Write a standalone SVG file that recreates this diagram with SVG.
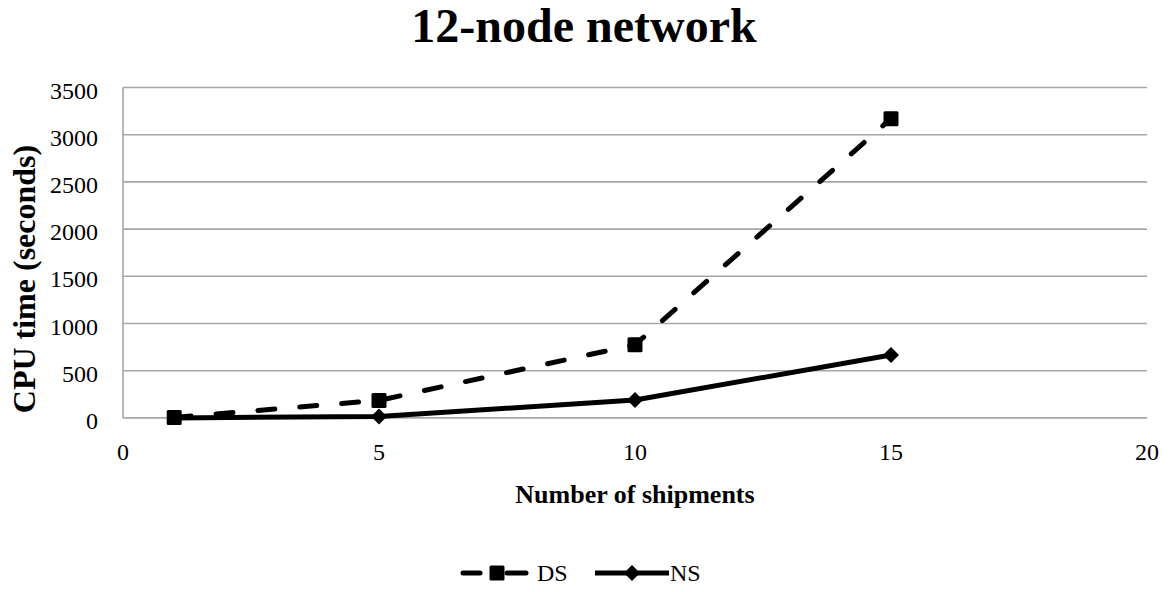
<svg xmlns="http://www.w3.org/2000/svg" width="1169" height="592" viewBox="0 0 1169 592">
  <style>
    text { font-family: "Liberation Serif", "Times New Roman", serif; fill: #000; }
    .title { font-size: 48px; font-weight: bold; text-anchor: middle; }
    .axis-title { font-weight: bold; text-anchor: middle; }
    .tick { font-size: 24px; }
    .ytick { text-anchor: end; }
    .xtick { text-anchor: middle; }
    .legend { font-size: 24px; }
    .grid { stroke: #a6a6a6; stroke-width: 1.6; fill: none; }
    .series { fill: none; stroke: #000; stroke-width: 5; stroke-linejoin: round; }
    .dashed { stroke-dasharray: 17 25; stroke-linecap: round; }
    .solid { stroke-linecap: butt; }
  </style>
  <defs>
    <rect id="sq" x="-7.5" y="-7.5" width="15" height="15" rx="1.5" fill="#000"/>
    <path id="dia" d="M0,-8 L8,0 L0,8 L-8,0 Z" fill="#000"/>
  </defs>

  <rect width="1169" height="592" fill="#fff"/>

  <text class="title" x="584" y="42">12-node network</text>

  <!-- gridlines and axes -->
  <g id="grid">
    <line class="grid" x1="123" y1="87.5" x2="1147" y2="87.5"/>
    <line class="grid" x1="123" y1="134.7" x2="1147" y2="134.7"/>
    <line class="grid" x1="123" y1="181.9" x2="1147" y2="181.9"/>
    <line class="grid" x1="123" y1="229.1" x2="1147" y2="229.1"/>
    <line class="grid" x1="123" y1="276.3" x2="1147" y2="276.3"/>
    <line class="grid" x1="123" y1="323.5" x2="1147" y2="323.5"/>
    <line class="grid" x1="123" y1="370.7" x2="1147" y2="370.7"/>
    <line class="grid" x1="123" y1="417.9" x2="1147" y2="417.9"/>
    <line class="grid" x1="123" y1="87.5" x2="123" y2="417.9"/>
  </g>

  <g id="y-ticks" class="tick">
    <text class="ytick" x="98" y="98.5">3500</text>
    <text class="ytick" x="98" y="145.7">3000</text>
    <text class="ytick" x="98" y="193">2500</text>
    <text class="ytick" x="98" y="240">2000</text>
    <text class="ytick" x="98" y="287.3">1500</text>
    <text class="ytick" x="98" y="334.5">1000</text>
    <text class="ytick" x="98" y="381.7">500</text>
    <text class="ytick" x="98" y="429">0</text>
  </g>

  <g id="x-ticks" class="tick">
    <text class="xtick" x="123" y="460">0</text>
    <text class="xtick" x="379" y="460">5</text>
    <text class="xtick" x="635" y="460">10</text>
    <text class="xtick" x="891" y="460">15</text>
    <text class="xtick" x="1147" y="460">20</text>
  </g>

  <text class="axis-title" x="635" y="503" font-size="26">Number of shipments</text>
  <text class="axis-title" transform="translate(35,279) rotate(-90)" font-size="32">CPU time (seconds)</text>

  <!-- data series -->
  <g id="connectors">
    <polyline id="ds-line" class="series dashed" points="174.2,417.4 379,400.4 635,344.7 891,118.7"/>
    <polyline id="ns-line" class="series solid" points="174.2,417.9 379,416.5 635,400 891,355"/>
  </g>

  <g id="ds-markers">
    <use href="#sq" x="174.2" y="417.4"/>
    <use href="#sq" x="379" y="400.4"/>
    <use href="#sq" x="635" y="344.7"/>
    <use href="#sq" x="891" y="118.7"/>
  </g>
  <g id="ns-markers">
    <use href="#dia" x="379" y="416.5"/>
    <use href="#dia" x="635" y="400"/>
    <use href="#dia" x="891" y="355"/>
  </g>

  <!-- legend -->
  <g id="legend">
    <g id="legend-ds">
      <line class="series" x1="463" y1="573" x2="480" y2="573" stroke-linecap="round"/>
      <line class="series" x1="507" y1="573" x2="526" y2="573" stroke-linecap="round"/>
      <use href="#sq" x="497" y="573"/>
      <text class="legend" x="537" y="581">DS</text>
    </g>
    <g id="legend-ns">
      <line class="series" x1="595" y1="573" x2="669" y2="573"/>
      <use href="#dia" x="632" y="573"/>
      <text class="legend" x="670" y="581">NS</text>
    </g>
  </g>
</svg>
